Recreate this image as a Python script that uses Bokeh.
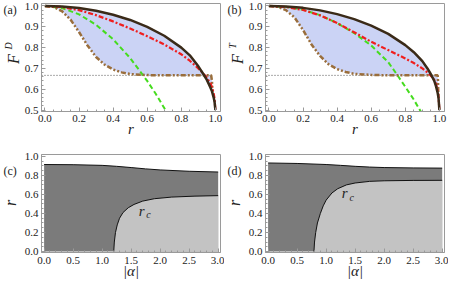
import math
import numpy as np
from bokeh.plotting import figure
from bokeh.models import Label, FixedTicker, PrintfTickFormatter, Range1d
from bokeh.layouts import gridplot
from bokeh.embed import file_html
from bokeh.resources import INLINE

# ---------------- data ----------------
# panel (a): F^D versus r
a_black_r = [0.0, 0.1, 0.2, 0.3, 0.4, 0.5, 0.6, 0.7, 0.8, 0.85, 0.9, 0.93, 0.95, 0.97, 0.98, 0.99, 0.995, 1.0]
a_black_F = [1.0, 0.9975, 0.99, 0.977, 0.958, 0.933, 0.9, 0.857, 0.8, 0.763, 0.71, 0.672, 0.645, 0.61, 0.59, 0.56, 0.54, 0.5]
a_red_r = a_black_r
a_red_F = [1.0, 0.995, 0.98, 0.956, 0.926, 0.892, 0.855, 0.815, 0.768, 0.737, 0.7, 0.675, 0.655, 0.63, 0.61, 0.58, 0.555, 0.5]
a_green_r = [0.0, 0.1, 0.2, 0.3, 0.4, 0.5, 0.6, 0.65, 0.7, 0.72]
a_green_F = [1.0, 0.99, 0.96, 0.91, 0.84, 0.75, 0.64, 0.578, 0.51, 0.482]
a_brown_r = [0.0, 0.05, 0.1, 0.15, 0.2, 0.25, 0.3, 0.35, 0.4, 0.45, 0.5, 0.6, 0.7, 0.8, 0.9, 0.975, 0.98, 0.983]
a_brown_F = [1.0, 0.996, 0.975, 0.935, 0.875, 0.81, 0.755, 0.718, 0.695, 0.681, 0.673, 0.668, 0.667, 0.667, 0.667, 0.667, 0.64, 0.585]

# panel (b): F^T versus r
b_black_r = a_black_r
b_black_F = [1.0, 0.998, 0.991, 0.979, 0.961, 0.937, 0.906, 0.866, 0.812, 0.778, 0.735, 0.7, 0.672, 0.64, 0.615, 0.582, 0.558, 0.5]
b_red_r = a_black_r
b_red_F = [1.0, 0.995, 0.981, 0.955, 0.918, 0.874, 0.828, 0.788, 0.748, 0.726, 0.7, 0.68, 0.665, 0.645, 0.625, 0.592, 0.565, 0.5]
b_green_r = [0.0, 0.1, 0.2, 0.3, 0.4, 0.5, 0.6, 0.7, 0.75, 0.8, 0.85, 0.9]
b_green_F = [1.0, 0.996, 0.982, 0.956, 0.918, 0.87, 0.81, 0.73, 0.672, 0.612, 0.55, 0.48]
b_brown_r = [0.0, 0.05, 0.1, 0.15, 0.2, 0.25, 0.3, 0.35, 0.4, 0.45, 0.5, 0.6, 0.7, 0.8, 0.9, 0.99, 0.992, 0.994]
b_brown_F = [1.0, 0.997, 0.98, 0.945, 0.885, 0.815, 0.76, 0.72, 0.697, 0.683, 0.674, 0.669, 0.667, 0.667, 0.667, 0.667, 0.64, 0.57]

F_classical = 2.0 / 3.0

# panel (c): regions in (|alpha|, r)
c_top_a = [0.0, 0.5, 1.0, 1.25, 1.5, 1.75, 2.0, 2.5, 3.0]
c_top_r = [0.914, 0.912, 0.905, 0.895, 0.882, 0.868, 0.857, 0.843, 0.835]
c_rc_a = [1.2, 1.21, 1.23, 1.26, 1.3, 1.36, 1.45, 1.55, 1.7, 1.9, 2.2, 2.6, 3.0]
c_rc_r = [0.0, 0.1, 0.2, 0.28, 0.35, 0.41, 0.46, 0.495, 0.53, 0.555, 0.572, 0.582, 0.587]

# panel (d)
d_top_a = [0.0, 0.5, 1.0, 1.25, 1.5, 1.75, 2.0, 2.5, 3.0]
d_top_r = [0.93, 0.925, 0.914, 0.905, 0.895, 0.887, 0.882, 0.878, 0.876]
d_rc_a = [0.79, 0.8, 0.82, 0.85, 0.9, 0.95, 1.0, 1.1, 1.2, 1.35, 1.5, 1.75, 2.0, 2.5, 3.0]
d_rc_r = [0.0, 0.1, 0.2, 0.3, 0.4, 0.48, 0.54, 0.615, 0.66, 0.7, 0.72, 0.737, 0.743, 0.747, 0.748]

r_ticks = [0.0, 0.2, 0.4, 0.6, 0.8, 1.0]
F_ticks = [0.5, 0.6, 0.7, 0.8, 0.9, 1.0]
alpha_ticks = [0.0, 0.5, 1.0, 1.5, 2.0, 2.5, 3.0]
rr_ticks = [0.0, 0.2, 0.4, 0.6, 0.8, 1.0]

# ---------------- styling ----------------
SERIF = "Liberation Serif"
FRAME = "#9a9a9a"
TXT = "#222222"
BLACK = "#3a2a18"
RED = "#f01e1e"
GREEN = "#45dc1e"
BROWN = "#9a6e3c"
FILL = "#cbd3f5"
DARK = "#7b7b7b"
LIGHT = "#c3c3c3"

STRIP_W = 21
PANEL_W = 203
TOP_H, BOT_H = 140, 141
TOP_B, BOT_B = 3, 14
BOTTOM_B = 29
YR_TOP = (0.493, 1.012)
YR_BOT = (-0.0097, 1.019)


def make_fig(xr, yr, top, height):
    p = figure(width=PANEL_W, height=height, x_range=xr, y_range=yr,
               output_backend="svg", toolbar_location=None)
    p.min_border_left = 18
    p.min_border_right = 4
    p.min_border_top = top
    p.min_border_bottom = BOTTOM_B
    p.grid.visible = False
    p.outline_line_color = FRAME
    p.outline_line_width = 1
    p.background_fill_color = "white"
    p.border_fill_color = "white"
    for ax in (p.xaxis[0], p.yaxis[0]):
        ax.axis_line_color = FRAME
        ax.major_tick_line_color = FRAME
        ax.minor_tick_line_color = FRAME
        ax.major_tick_in = 4
        ax.major_tick_out = 0
        ax.minor_tick_in = 2
        ax.minor_tick_out = 0
        ax.major_label_text_font = SERIF
        ax.major_label_text_font_size = "11px"
        ax.major_label_text_color = TXT
        ax.major_label_standoff = 3
        ax.formatter = PrintfTickFormatter(format="%.1f")
        ax.axis_label_text_font = SERIF
        ax.axis_label_text_font_style = "italic"
        ax.axis_label_text_font_size = "15px"
        ax.axis_label_text_color = TXT
        ax.axis_label_standoff = -4
    return p


def label_strip(yr, top, height):
    # a narrow, axis-less figure that carries the panel tag and the y-axis title
    s = figure(width=STRIP_W, height=height, x_range=Range1d(0, STRIP_W),
               y_range=Range1d(*yr), output_backend="svg",
               toolbar_location=None, x_axis_location=None,
               y_axis_location=None)
    s.min_border_left = 0
    s.min_border_right = 0
    s.min_border_top = top
    s.min_border_bottom = BOTTOM_B
    s.grid.visible = False
    s.outline_line_color = None
    s.background_fill_color = "white"
    s.border_fill_color = "white"
    return s


def set_ticks(p, xt, yt, xminor_step, yminor_step):
    xm = [float(v) for v in np.round(np.arange(xt[0], xt[-1] + 1e-9, xminor_step), 4)]
    ym = [float(v) for v in np.round(np.arange(yt[0], yt[-1] + 1e-9, yminor_step), 4)]
    p.xaxis[0].ticker = FixedTicker(ticks=xt, minor_ticks=xm)
    p.yaxis[0].ticker = FixedTicker(ticks=yt, minor_ticks=ym)


def add_label(p, x, y, text, size, italic=True, angle=0.0, align="center"):
    p.add_layout(Label(x=x, y=y, text=text, text_font=SERIF,
                       text_font_size=size,
                       text_font_style="italic" if italic else "normal",
                       text_color=TXT, angle=angle, text_align=align,
                       text_baseline="middle"))


def fidelity_panel(tag, sup, black_r, black_F, red_r, red_F, green_r, green_F,
                   brown_r, brown_F):
    p = make_fig((-0.02, 1.03), YR_TOP, TOP_B, TOP_H)
    set_ticks(p, r_ticks, F_ticks, 0.05, 0.02)
    p.xaxis[0].axis_label = "r"
    # filled region between upper (black) and lower (brown) curves
    cut = [i for i, rv in enumerate(black_r) if rv <= brown_r[-1]]
    px = [black_r[i] for i in cut] + list(reversed(brown_r))
    py = [black_F[i] for i in cut] + list(reversed(brown_F))
    p.patch(px, py, fill_color=FILL, line_color=None)
    p.line([-0.02, brown_r[-3]], [F_classical, F_classical], line_color="#555555",
           line_width=1, line_dash="1 2")
    p.line(green_r, green_F, line_color=GREEN, line_width=2, line_dash="5 3")
    p.line(brown_r, brown_F, line_color=BROWN, line_width=2.5,
           line_dash="5 2 2 2 2 2")
    p.line(red_r, red_F, line_color=RED, line_width=2.2, line_dash="5 2 2 2")
    p.line(black_r, black_F, line_color=BLACK, line_width=2.5)

    s = label_strip(YR_TOP, TOP_B, TOP_H)
    add_label(s, 3, 0.982, tag, "12px", italic=False, align="left")
    add_label(s, 12.5, 0.745, "F", "16px", angle=math.pi / 2)
    add_label(s, 7.5, 0.808, sup, "10px", angle=math.pi / 2)
    return s, p


def region_panel(tag, top_a, top_r, rc_a, rc_r, rc_lab):
    p = make_fig((-0.045, 3.04), YR_BOT, BOT_B, BOT_H)
    set_ticks(p, alpha_ticks, rr_ticks, 0.1, 0.05)
    p.xaxis[0].major_label_standoff = 4
    p.xaxis[0].axis_label = "|α|"
    p.varea(x=top_a, y1=[0.0] * len(top_a), y2=top_r, fill_color=DARK)
    p.varea(x=rc_a, y1=[0.0] * len(rc_a), y2=rc_r, fill_color=LIGHT)
    p.line(top_a, top_r, line_color="#111111", line_width=1)
    p.line(rc_a, rc_r, line_color="#111111", line_width=1)
    add_label(p, rc_lab[0], rc_lab[1], "r", "15px")
    add_label(p, rc_lab[0] + 0.12, rc_lab[1] - 0.04, "c", "10px")

    s = label_strip(YR_BOT, BOT_B, BOT_H)
    add_label(s, 3, 0.842, tag, "12px", italic=False, align="left")
    add_label(s, 10, 0.51, "r", "16px", angle=math.pi / 2)
    return s, p


sa, pa = fidelity_panel("(a)", "D", a_black_r, a_black_F, a_red_r, a_red_F,
                        a_green_r, a_green_F, a_brown_r, a_brown_F)
sb, pb = fidelity_panel("(b)", "T", b_black_r, b_black_F, b_red_r, b_red_F,
                        b_green_r, b_green_F, b_brown_r, b_brown_F)
sc, pc = region_panel("(c)", c_top_a, c_top_r, c_rc_a, c_rc_r, (1.68, 0.43))
sd, pd = region_panel("(d)", d_top_a, d_top_r, d_rc_a, d_rc_r, (1.32, 0.61))

grid = gridplot([[sa, pa, sb, pb], [sc, pc, sd, pd]], toolbar_location=None)

open("out.html", "w").write(file_html(grid, INLINE))
